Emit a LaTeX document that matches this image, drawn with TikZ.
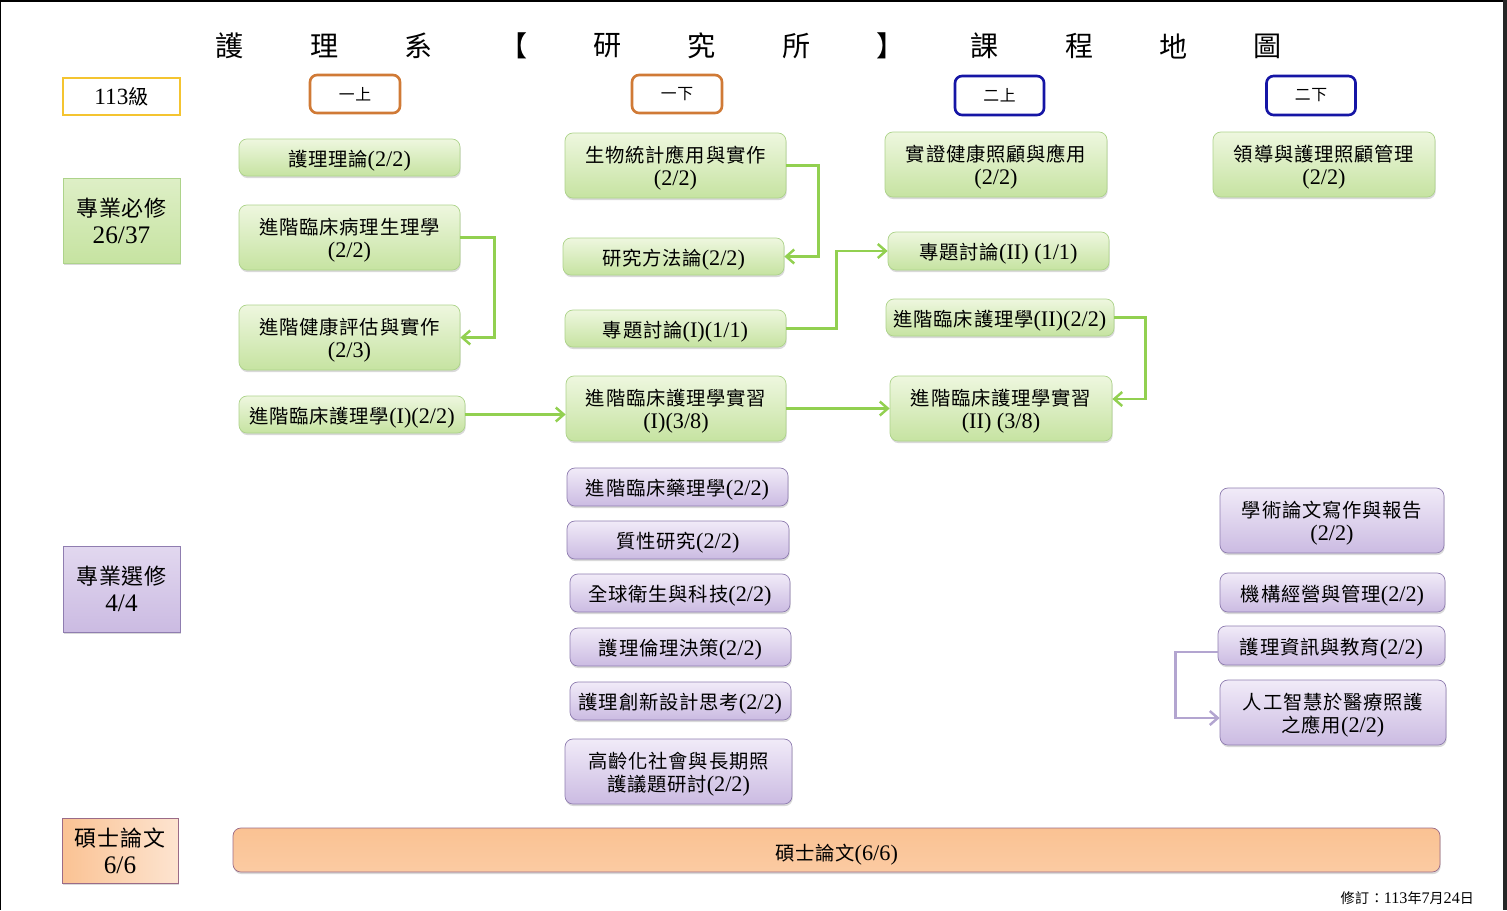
\documentclass[tikz,border=0pt]{standalone}
\usepackage{fontspec}
\setmainfont{Liberation Serif}[Scale=1.15]
\newfontfamily\cjk{Noto Sans CJK TC}[LetterSpace=4]
\usetikzlibrary{shadows,arrows.meta}

\newcommand\zh[1]{{\cjk #1}}

\definecolor{grnTop}{HTML}{EEF7DF}
\definecolor{grnBot}{HTML}{C6E3A1}
\definecolor{grnLine}{HTML}{ADD38A}
\definecolor{purTop}{HTML}{F1EBF8}
\definecolor{purBot}{HTML}{CBBBE2}
\definecolor{purLine}{HTML}{8F7DB0}
\definecolor{orgFill}{HTML}{FAC293}
\definecolor{orgLight}{HTML}{FDE4D0}
\definecolor{orgLine}{HTML}{9B6B87}
\definecolor{arrowGreen}{HTML}{92D050}
\definecolor{arrowPurple}{HTML}{B3A5D0}
\definecolor{termYellow}{HTML}{F4C430}
\definecolor{termOrange}{HTML}{D07A36}
\definecolor{termBlue}{HTML}{1515A5}

\begin{document}
\begin{tikzpicture}[x=0.02cm, y=-0.02cm,
    boxsize/.style 2 args={
        minimum width=#1*0.02cm,
        minimum height=#2*0.02cm
    },
    course/.style={
        rounded corners=4.5pt,
        align=center,
        inner sep=1pt,
        text height=12.5pt,
        font=\fontsize{11}{13.6}\selectfont,
        drop shadow={shadow xshift=0.4pt, shadow yshift=-1.2pt, opacity=0.3}
    },
    tall/.style={
        text height=26pt
    },
    req/.style={
        course,
        draw=grnLine,
        top color=grnTop,
        bottom color=grnBot,
        boxsize={221}{37}
    },
    elec/.style={
        course,
        draw=purLine,
        top color=purTop,
        bottom color=purBot,
        boxsize={221}{38}
    },
    term/.style={
        draw=#1,
        line width=1.5pt,
        rounded corners=4pt,
        fill=white,
        boxsize={90}{38},
        font=\cjk\fontsize{9}{11}\selectfont
    },
    category/.style={
        align=center,
        inner sep=1pt,
        boxsize={117}{85},
        font=\fontsize{12.5}{15.5}\selectfont,
        drop shadow={shadow xshift=0.4pt, shadow yshift=-1.2pt, opacity=0.3}
    },
    flow/.style={
        draw=arrowGreen,
        line width=1.4pt,
        -{Straight Barb[length=1.6mm, width=2.8mm]}
    }
]
\useasboundingbox (0,0) rectangle (1507,910);

% --- Frame ---
\fill[black] (0,0) rectangle (1503,1.5);
\fill[black] (0,0) rectangle (1.5,910);
\fill[black!85] (1503,0) rectangle (1507,910);

%%%%%%%%%%%%%%%%%%%%%%%%
% Title
%%%%%%%%%%%%%%%%%%%%%%%%
\foreach \ch [count=\i from 0] in {護,理,系,【,研,究,所,】,課,程,地,圖}
    \node[font=\cjk\fontsize{16}{18}\selectfont] (title-\i) at (230+94.36*\i, 46) {\ch};

%%%%%%%%%%%%%%%%%%%%%%%%
% Semesters
%%%%%%%%%%%%%%%%%%%%%%%%
\node[term=termYellow, rounded corners=0pt, boxsize={117}{37},
      font=\fontsize{11.5}{13}\selectfont] (grade) at (121.5,96.5) {113\zh{級}};
\node[term=termOrange] (y1a) at (355,94) {一上};
\node[term=termOrange] (y1b) at (677,94) {一下};
\node[term=termBlue, boxsize={89}{39}] (y2a) at (999.5,95.5) {二上};
\node[term=termBlue, boxsize={89}{39}] (y2b) at (1311,95.5) {二下};

%%%%%%%%%%%%%%%%%%%%%%%%
% Categories
%%%%%%%%%%%%%%%%%%%%%%%%
\node[category, draw=grnLine, top color=grnTop!60!grnBot, bottom color=grnBot]
    (core) at (121.5,220.5) {\zh{專業必修}\\26/37};
\node[category, draw=purLine, top color=purTop!60!purBot, bottom color=purBot,
      boxsize={117}{86}]
    (elective) at (121.5,589) {\zh{專業選修}\\4/4};
\node[category, draw=orgLine, left color=orgFill, right color=orgLight,
      boxsize={116}{65}]
    (thesis) at (120,850.5) {\zh{碩士論文}\\6/6};

%%%%%%%%%%%%%%%%%%%%%%%%
% Required courses
%%%%%%%%%%%%%%%%%%%%%%%%

% --- 1st semester ---
\node[req] (c1a) at (349.5,157.5) {\zh{護理理論}(2/2)};
\node[req, tall, boxsize={221}{65}] (c1b) at (349.5,237.5) {\zh{進階臨床病理生理學}\\(2/2)};
\node[req, tall, boxsize={221}{65}] (c1c) at (349.5,337.5) {\zh{進階健康評估與實作}\\(2/3)};
\node[req, boxsize={226}{37}] (c1d) at (352,414.5) {\zh{進階臨床護理學}(I)(2/2)};

% --- 2nd semester ---
\node[req, tall, boxsize={221}{65}] (c2a) at (675.5,165.5) {\zh{生物統計應用與實作}\\(2/2)};
\node[req] (c2b) at (673.5,256.5) {\zh{研究方法論}(2/2)};
\node[req] (c2c) at (675.5,328.5) {\zh{專題討論}(I)(1/1)};
\node[req, tall, boxsize={220}{65}] (c2d) at (676,408.5) {\zh{進階臨床護理學實習}\\(I)(3/8)};

% --- 3rd semester ---
\node[req, tall, boxsize={222}{65}] (c3a) at (996,164.5) {\zh{實證健康照顧與應用}\\(2/2)};
\node[req, boxsize={221}{38}] (c3b) at (998.5,251) {\zh{專題討論}(II) (1/1)};
\node[req, boxsize={228}{37}] (c3c) at (1000,317.5) {\zh{進階臨床護理學}(II)(2/2)};
\node[req, tall, boxsize={222}{65}] (c3d) at (1001,408.5) {\zh{進階臨床護理學實習}\\(II) (3/8)};

% --- 4th semester ---
\node[req, tall, boxsize={222}{65}] (c4a) at (1324,164.5) {\zh{領導與護理照顧管理}\\(2/2)};

%%%%%%%%%%%%%%%%%%%%%%%%
% Elective courses
%%%%%%%%%%%%%%%%%%%%%%%%
\node[elec] (e2a) at (677.5,487) {\zh{進階臨床藥理學}(2/2)};
\node[elec, boxsize={222}{38}] (e2b) at (678,540) {\zh{質性研究}(2/2)};
\node[elec, boxsize={220}{38}] (e2c) at (680,593) {\zh{全球衛生與科技}(2/2)};
\node[elec] (e2d) at (680.5,647) {\zh{護理倫理決策}(2/2)};
\node[elec] (e2e) at (680.5,701) {\zh{護理創新設計思考}(2/2)};
\node[elec, tall, boxsize={227}{65}] (e2f) at (678.5,771.5) {\zh{高齡化社會與長期照}\\\zh{護議題研討}(2/2)};

\node[elec, tall, boxsize={224}{65}] (e4a) at (1332,520.5) {\zh{學術論文寫作與報告}\\(2/2)};
\node[elec, boxsize={225}{39}] (e4b) at (1332.5,592.5) {\zh{機構經營與管理}(2/2)};
\node[elec, boxsize={227}{39}] (e4c) at (1331.5,645.5) {\zh{護理資訊與教育}(2/2)};
\node[elec, tall, boxsize={226}{65}] (e4d) at (1333,712.5) {\zh{人工智慧於醫療照護}\\\zh{之應用}(2/2)};

%%%%%%%%%%%%%%%%%%%%%%%%
% Thesis
%%%%%%%%%%%%%%%%%%%%%%%%
\node[course, draw=orgLine, top color=orgFill, bottom color=orgFill!75!orgLight,
      boxsize={1207}{44}, text height=15pt] (bar) at (836.5,850) {\zh{碩士論文}(6/6)};

\node[anchor=east, font=\fontsize{8}{10}\selectfont] (rev) at (1481,898)
    {\zh{修訂：}113\zh{年}7\zh{月}24\zh{日}};

%%%%%%%%%%%%%%%%%%%%%%%%
% Prerequisite arrows
%%%%%%%%%%%%%%%%%%%%%%%%
\draw[flow] (c1b.east) -- ++(34,0) |- (c1c.east);
\draw[flow] (c1d.east) -- (c1d.east -| c2d.west);
\draw[flow] (c2a.east) -- ++(32,0) |- (c2b.east);
\draw[flow] (c2c.east) -- ++(50,0) |- (c3b.west);
\draw[flow] (c2d.east) -- (c3d.west);
\draw[flow] (c3c.east) -- ++(31,0) |- ([yshift=0.19cm]c3d.east);
\draw[flow, draw=arrowPurple] ([yshift=-0.13cm]e4c.west) -- ++(-42,0)
    |- ([yshift=-0.11cm]e4d.west);

\end{tikzpicture}
\end{document}
